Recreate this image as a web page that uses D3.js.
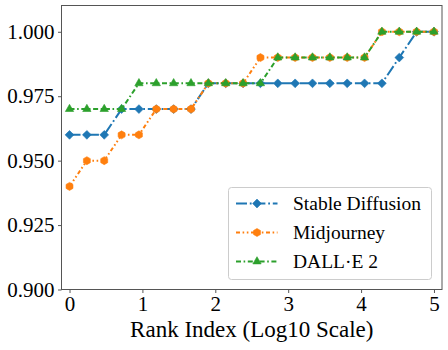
<!DOCTYPE html>
<html>
<head>
<meta charset="utf-8">
<script src="https://cdn.jsdelivr.net/npm/d3@7"></script>
<style>
  body { margin: 0; background: #fff; }
</style>
</head>
<body>
<div id="chart"></div>
<script>
var svgWidth = 448;
var svgHeight = 350;
var serifFont = "Liberation Serif";

// chart data (22 evenly spaced rank positions on a log10 axis)
var nPoints = 22;
var xValues = d3.range(nPoints).map(i => i * 5 / (nPoints - 1));
var stableDiffusion = [0.96, 0.96, 0.96, 0.97, 0.97, 0.97, 0.97, 0.97, 0.98, 0.98, 0.98,
  0.98, 0.98, 0.98, 0.98, 0.98, 0.98, 0.98, 0.98, 0.99, 1.0, 1.0];
var midjourney = [0.94, 0.95, 0.95, 0.96, 0.96, 0.97, 0.97, 0.97, 0.98, 0.98, 0.98,
  0.99, 0.99, 0.99, 0.99, 0.99, 0.99, 0.99, 1.0, 1.0, 1.0, 1.0];
var dalle2 = [0.97, 0.97, 0.97, 0.97, 0.98, 0.98, 0.98, 0.98, 0.98, 0.98, 0.98,
  0.98, 0.99, 0.99, 0.99, 0.99, 0.99, 0.99, 1.0, 1.0, 1.0, 1.0];
var seriesNames = ["Stable Diffusion", "Midjourney", "DALL\u00B7E 2"];
var xTicks = [0, 1, 2, 3, 4, 5];
var yTicks = [0.900, 0.925, 0.950, 0.975, 1.000];

var series = [
  { name: seriesNames[0], values: stableDiffusion, color: "#1f77b4", dash: "11,2.8,1.8,2.8", marker: "diamond" },
  { name: seriesNames[1], values: midjourney, color: "#ff7f0e", dash: "4,2.6,1.6,2.6,1.6,2.6", marker: "hexagon" },
  { name: seriesNames[2], values: dalle2, color: "#2ca02c", dash: "5,2.6,1.6,2.6", marker: "triangle" }
];

var margin = { top: 5.5, right: 6, bottom: 60.5, left: 61.5 };
var width = svgWidth - margin.left - margin.right;
var height = svgHeight - margin.top - margin.bottom;

var svg = d3.select("#chart")
  .append("svg")
  .attr("width", svgWidth)
  .attr("height", svgHeight)
  .attr("font-family", serifFont)
  .style("font-family", serifFont);

var chartGroup = svg.append("g")
  .attr("transform", `translate(${margin.left}, ${margin.top})`);

var xScale = d3.scaleLinear().domain([-0.11, 5.11]).range([0, width]);
var yScale = d3.scaleLinear().domain([0.9, 1.0102]).range([height, 0]);

// marker shapes
function markerPath(type) {
  if (type === "diamond") {
    var r = 4.4;
    return `M0,${-r}L${r},0L0,${r}L${-r},0Z`;
  }
  if (type === "hexagon") {
    var r = 4;
    var pts = d3.range(6).map(k => {
      var a = Math.PI / 2 + k * Math.PI / 3;
      return [r * Math.cos(a), -r * Math.sin(a)];
    });
    return "M" + pts.join("L") + "Z";
  }
  var r = 4.8;
  return `M0,${-r}L${r * 0.866},${r * 0.5}L${-r * 0.866},${r * 0.5}Z`;
}

// axes
var bottomAxis = d3.axisBottom(xScale).tickValues(xTicks).tickFormat(d3.format("d"))
  .tickSizeInner(3.5).tickSizeOuter(0).tickPadding(3);
var leftAxis = d3.axisLeft(yScale).tickValues(yTicks).tickFormat(d3.format(".3f"))
  .tickSizeInner(3.5).tickSizeOuter(0).tickPadding(3.5);

var xAxis = chartGroup.append("g")
  .attr("transform", `translate(0, ${height})`)
  .call(bottomAxis);
var yAxis = chartGroup.append("g")
  .call(leftAxis);

[xAxis, yAxis].forEach(function(ax) {
  ax.attr("font-family", serifFont).attr("font-size", 21);
  ax.select(".domain").remove();
  ax.selectAll(".tick line").attr("stroke", "#444").attr("stroke-width", 0.9);
  ax.selectAll(".tick text")
    .attr("font-family", serifFont)
    .attr("font-size", 21)
    .attr("fill", "#000");
});
xAxis.selectAll(".tick text").attr("dy", "0.72em");

// frame
chartGroup.append("rect")
  .attr("x", 0).attr("y", 0)
  .attr("width", width).attr("height", height)
  .attr("fill", "none")
  .attr("stroke", "#555")
  .attr("stroke-width", 1);

// lines and markers
var line = d3.line()
  .x((d, i) => xScale(xValues[i]))
  .y(d => yScale(d));

series.forEach(function(s) {
  var g = chartGroup.append("g");
  g.append("path")
    .datum(s.values)
    .attr("d", line)
    .attr("fill", "none")
    .attr("stroke", s.color)
    .attr("stroke-width", 2)
    .attr("stroke-dasharray", s.dash);
  g.selectAll("path.mark")
    .data(s.values)
    .enter()
    .append("path")
    .classed("mark", true)
    .attr("d", markerPath(s.marker))
    .attr("transform", (d, i) => `translate(${xScale(xValues[i])},${yScale(d)})`)
    .attr("fill", s.color)
    .attr("stroke", s.color)
    .attr("stroke-width", 0.6);
});

// x axis label
svg.append("text")
  .attr("x", margin.left + width / 2)
  .attr("y", 337)
  .attr("text-anchor", "middle")
  .attr("font-family", serifFont)
  .attr("font-size", 23)
  .text("Rank Index (Log10 Scale)");

// legend
var legend = svg.append("g").attr("transform", "translate(228.5, 187.5)");
legend.append("rect")
  .attr("width", 203)
  .attr("height", 92)
  .attr("rx", 3)
  .attr("fill", "#fff")
  .attr("fill-opacity", 0.8)
  .attr("stroke", "#ccc")
  .attr("stroke-width", 1);

series.forEach(function(s, i) {
  var y = 16 + i * 29;
  var row = legend.append("g").attr("transform", `translate(0, ${y})`);
  row.append("line")
    .attr("x1", 7.5).attr("x2", 49)
    .attr("stroke", s.color)
    .attr("stroke-width", 2)
    .attr("stroke-dasharray", s.dash);
  row.append("path")
    .attr("d", markerPath(s.marker))
    .attr("transform", "translate(28.5, 0)")
    .attr("fill", s.color)
    .attr("stroke", s.color)
    .attr("stroke-width", 0.6);
  row.append("text")
    .attr("x", 64.5)
    .attr("dy", "0.33em")
    .attr("font-family", serifFont)
    .attr("font-size", 19.5)
    .attr("fill", "#000")
    .text(s.name);
});
</script>
</body>
</html>
